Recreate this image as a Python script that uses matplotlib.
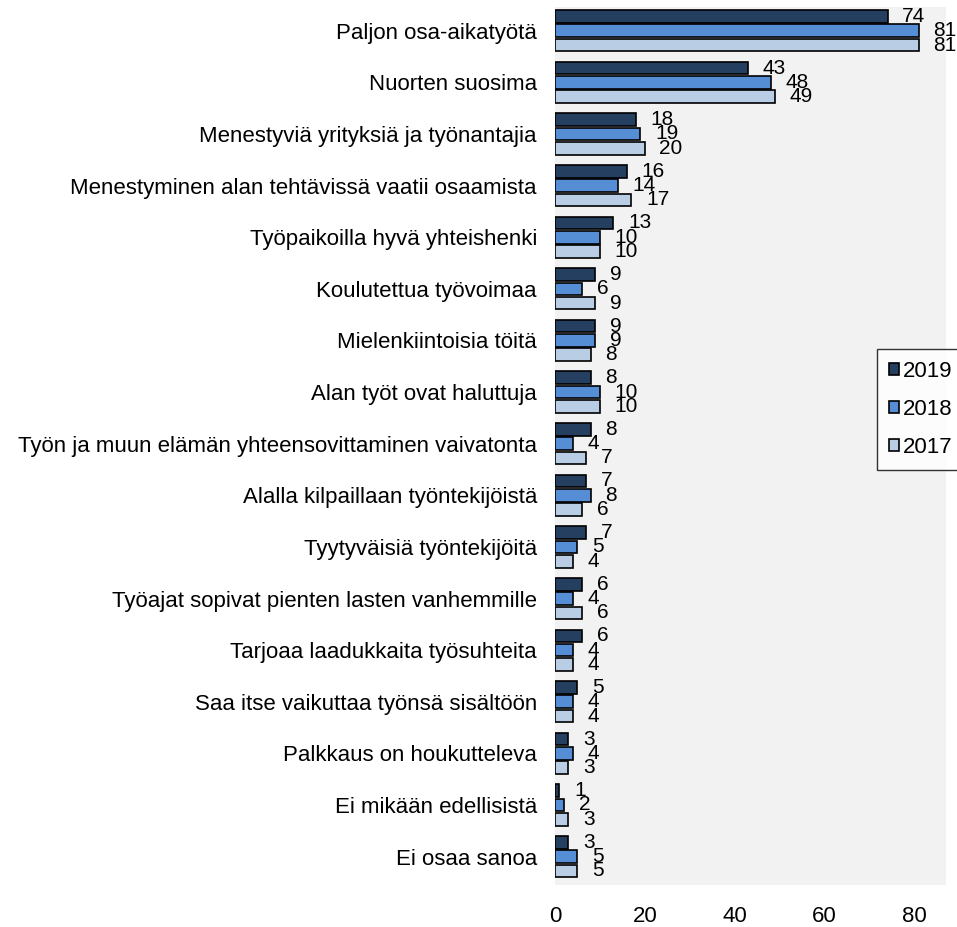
import matplotlib
matplotlib.use("Agg")
import matplotlib.pyplot as plt
import numpy as np

plt.rcParams['font.family'] = ['Liberation Sans', 'DejaVu Sans']

categories = [
    "Paljon osa-aikatyötä",
    "Nuorten suosima",
    "Menestyviä yrityksiä ja työnantajia",
    "Menestyminen alan tehtävissä vaatii osaamista",
    "Työpaikoilla hyvä yhteishenki",
    "Koulutettua työvoimaa",
    "Mielenkiintoisia töitä",
    "Alan työt ovat haluttuja",
    "Työn ja muun elämän yhteensovittaminen vaivatonta",
    "Alalla kilpaillaan työntekijöistä",
    "Tyytyväisiä työntekijöitä",
    "Työajat sopivat pienten lasten vanhemmille",
    "Tarjoaa laadukkaita työsuhteita",
    "Saa itse vaikuttaa työnsä sisältöön",
    "Palkkaus on houkutteleva",
    "Ei mikään edellisistä",
    "Ei osaa sanoa",
]
v2019 = [74, 43, 18, 16, 13, 9, 9, 8, 8, 7, 7, 6, 6, 5, 3, 1, 3]
v2018 = [81, 48, 19, 14, 10, 6, 9, 10, 4, 8, 5, 4, 4, 4, 4, 2, 5]
v2017 = [81, 49, 20, 17, 10, 9, 8, 10, 7, 6, 4, 6, 4, 4, 3, 3, 5]
series_names = ["2019", "2018", "2017"]
colors = ["#243f60", "#558ed5", "#b9cde5"]
xticks = [0, 20, 40, 60, 80]

fs = 16

fig = plt.figure(figsize=(9.57, 9.27), dpi=100)
ax = fig.add_axes([555/957, 1-885/927, 391/957, 878/927])
ax.set_facecolor("#f2f2f2")

y = np.arange(len(categories))
offs = [-0.277, 0.0, 0.277]
h = 0.245
handles = []
for vals, off, c, name in zip([v2019, v2018, v2017], offs, colors, series_names):
    b = ax.barh(y + off, vals, height=h, color=c, edgecolor="black", linewidth=1.2, label=name)
    handles.append(b)
    for yi, v in zip(y + off, vals):
        ax.annotate(str(v), (v, yi), xytext=(10.5, 0), textcoords="offset points",
                    ha="left", va="center", fontsize=15, color="black")

ax.set_ylim(len(categories) - 0.45, -0.46)
ax.set_xlim(0, 87)
ax.set_yticks(y)
ax.set_yticklabels(categories, fontsize=fs)
ax.set_xticks(xticks)
ax.set_xticklabels([str(t) for t in xticks], fontsize=fs)
ax.tick_params(axis="both", length=0)
ax.tick_params(axis="y", pad=13)
ax.tick_params(axis="x", pad=15)
for s in ax.spines.values():
    s.set_visible(False)

leg = fig.legend(handles=handles, labels=series_names, loc="upper left",
                 bbox_to_anchor=(877/957, 1-349/927), fontsize=fs, frameon=True,
                 fancybox=False, edgecolor="black", handlelength=0.45, handleheight=0.45,
                 handletextpad=0.15, labelspacing=0.75, borderpad=0.55, borderaxespad=0)
leg.get_frame().set_linewidth(1.0)

fig.savefig("out.png", dpi=100)
